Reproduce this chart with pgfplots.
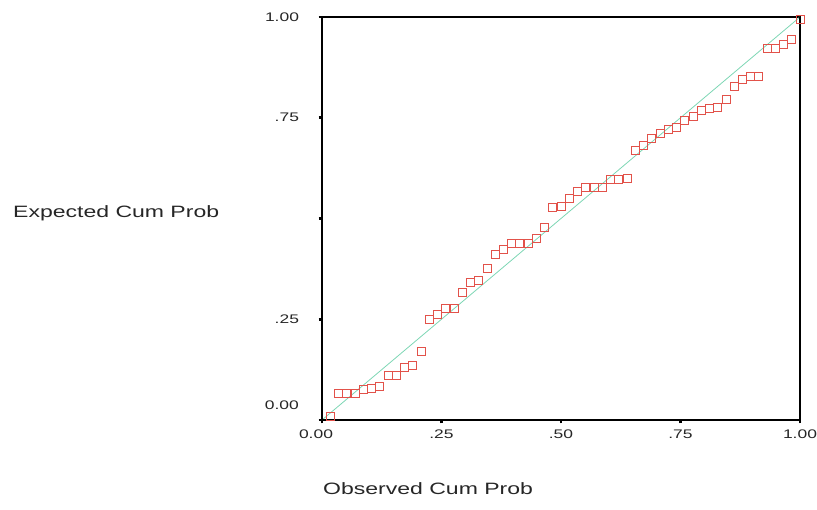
\documentclass[border=0pt]{standalone}
\usepackage{pgfplots}
\pgfplotsset{compat=1.18}
\usepackage{pgfplotstable}
\usepackage{fontspec}
\setmainfont{Liberation Sans}[FakeStretch=1.4]

\definecolor{ppmark}{RGB}{226,82,74}
\definecolor{ppline}{RGB}{125,214,180}

% observed vs expected cumulative probability, 58 cases
\pgfplotstableread{
obs    expct
0.017  0.010
0.034  0.066
0.052  0.066
0.069  0.066
0.086  0.077
0.103  0.079
0.121  0.083
0.138  0.110
0.155  0.110
0.172  0.130
0.190  0.136
0.207  0.171
0.224  0.250
0.241  0.261
0.259  0.277
0.276  0.277
0.293  0.317
0.310  0.342
0.328  0.346
0.345  0.376
0.362  0.411
0.379  0.424
0.397  0.437
0.414  0.437
0.431  0.437
0.448  0.451
0.466  0.478
0.483  0.528
0.500  0.529
0.517  0.550
0.534  0.568
0.552  0.576
0.569  0.576
0.586  0.576
0.603  0.597
0.621  0.597
0.638  0.600
0.655  0.670
0.672  0.681
0.690  0.699
0.707  0.711
0.724  0.721
0.741  0.725
0.759  0.744
0.776  0.753
0.793  0.769
0.810  0.772
0.828  0.776
0.845  0.796
0.862  0.829
0.879  0.844
0.897  0.852
0.914  0.852
0.931  0.921
0.948  0.921
0.966  0.931
0.983  0.945
1.000  0.995
}\pptable

\begin{document}
\begin{tikzpicture}
\useasboundingbox (0,0) rectangle (817bp,510bp);
\begin{axis}[
  at={(322bp,90bp)}, anchor=south west,
  scale only axis, width=478bp, height=403bp,
  xmin=0, xmax=1, ymin=0, ymax=1,
  clip=false,
  axis line style={black, line width=1.1bp},
  xtick={0,0.25,0.5,0.75,1},
  xticklabels={\hspace*{-12bp}0.00,.25,.50,.75,1.00},
  ytick={0,0.25,0.5,0.75,1},
  yticklabels={,.25,,.75,1.00},
  xtick pos=left, ytick pos=left,
  tick align=outside,
  major tick length=3.5bp,
  tick style={black, line width=2.6bp},
  /pgf/number format/assume math mode=true,
  ticklabel style={font=\fontsize{12.5}{14}\selectfont, text=black!85},
  yticklabel style={xshift=-16bp},
  xticklabel style={yshift=-3bp},
]
\addplot[ppline, line width=0.8bp] coordinates {(0,0) (1,1)};
\addplot[only marks, mark=square, mark size=4bp,
  mark options={draw=ppmark, line width=0.8bp}] table[x=obs, y=expct] {\pptable};
\draw[black, line width=2bp] (rel axis cs:0,1) -- (rel axis cs:0,0) -- (rel axis cs:1,0);
\draw[black, line width=1.6bp] (rel axis cs:1,0) -- (rel axis cs:1,1);
% SPSS sets the lowest y label a little above its tick
\node[anchor=east, inner sep=0pt, text=black!85, font=\fontsize{12.5}{14}\selectfont]
  at ([xshift=-23bp]axis cs:0,0.037) {0.00};
\end{axis}
\node[anchor=base west, inner sep=0pt, text=black!85, font=\fontsize{16.5}{20}\selectfont]
  at (13bp,292bp) {Expected Cum Prob};
\node[anchor=base west, inner sep=0pt, text=black!85, font=\fontsize{16.5}{20}\selectfont]
  at (323bp,16bp) {Observed Cum Prob};
\end{tikzpicture}
\end{document}
